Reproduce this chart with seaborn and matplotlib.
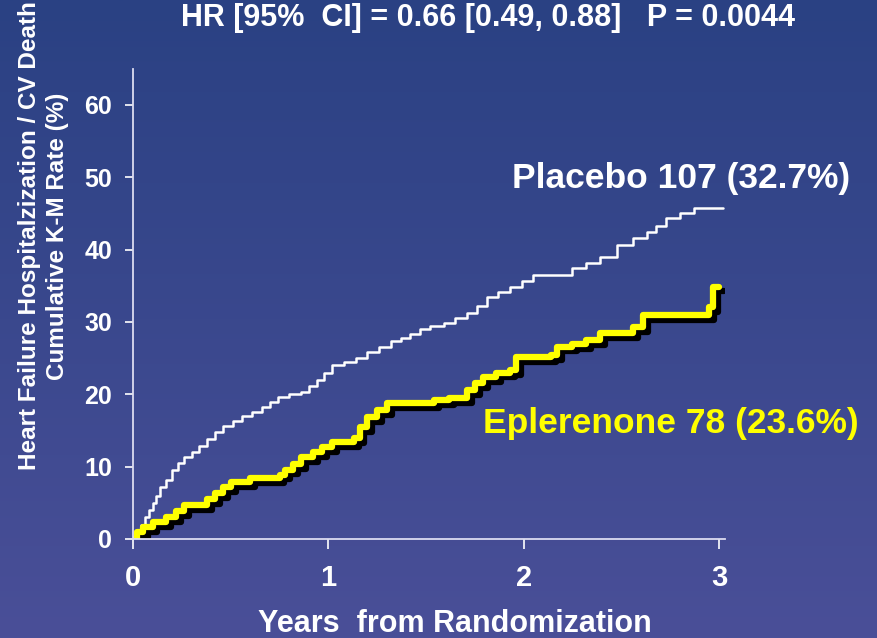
import numpy as np
import pandas as pd
import seaborn as sns
import matplotlib.pyplot as plt
import matplotlib.patheffects as pe
from matplotlib.colors import LinearSegmentedColormap

# Kaplan-Meier step points (years, cumulative %)
placebo_years = [0.00, 0.02, 0.04, 0.06, 0.08, 0.10, 0.12, 0.14, 0.17, 0.20,
                 0.23, 0.26, 0.30, 0.34, 0.38, 0.42, 0.46, 0.51, 0.56, 0.61,
                 0.66, 0.70, 0.74, 0.80, 0.86, 0.90, 0.94, 0.98, 1.02, 1.08,
                 1.14, 1.20, 1.26, 1.32, 1.37, 1.42, 1.47, 1.52, 1.59, 1.65,
                 1.71, 1.76, 1.81, 1.87, 1.93, 1.99, 2.05, 2.25, 2.32, 2.39,
                 2.48, 2.56, 2.63, 2.68, 2.73, 2.80, 2.87, 3.02]
placebo_rate = [0.0, 1.0, 2.0, 3.0, 4.0, 5.0, 6.0, 7.2, 8.2, 9.5,
                10.5, 11.3, 12.0, 12.8, 13.8, 14.8, 15.6, 16.3, 17.0, 17.6,
                18.3, 19.0, 19.6, 20.0, 20.3, 21.2, 22.0, 23.0, 24.0, 24.5,
                25.0, 25.8, 26.5, 27.4, 27.8, 28.3, 29.0, 29.5, 29.9, 30.6,
                31.3, 32.2, 33.5, 34.2, 34.9, 35.6, 36.5, 37.4, 38.2, 39.0,
                40.7, 41.6, 42.5, 43.2, 44.4, 45.0, 45.8, 45.8]

eplerenone_years = [0.00, 0.02, 0.05, 0.10, 0.17, 0.22, 0.26, 0.34, 0.38, 0.42,
                    0.46, 0.50, 0.60, 0.75, 0.78, 0.82, 0.86, 0.92, 0.97, 1.02,
                    1.13, 1.16, 1.20, 1.25, 1.30, 1.54, 1.62, 1.71, 1.75, 1.79,
                    1.86, 1.93, 1.96, 2.14, 2.17, 2.25, 2.32, 2.39, 2.56, 2.61,
                    2.94, 2.95, 2.97, 3.00]
eplerenone_rate = [0.0, 1.0, 1.7, 2.3, 3.0, 3.8, 4.7, 4.7, 5.5, 6.3,
                   7.2, 7.9, 8.4, 8.9, 9.6, 10.4, 11.3, 12.0, 12.7, 13.4,
                   14.0, 15.5, 16.9, 17.8, 18.8, 19.2, 19.5, 20.6, 21.5, 22.4,
                   23.0, 23.4, 25.2, 25.4, 26.6, 27.0, 27.5, 28.5, 29.3, 31.0,
                   31.0, 32.1, 34.9, 34.9]

x_ticks = [0, 1, 2, 3]
y_ticks = [0, 10, 20, 30, 40, 50, 60]

placebo = pd.DataFrame({"Years": placebo_years, "Rate": placebo_rate})
eplerenone = pd.DataFrame({"Years": eplerenone_years, "Rate": eplerenone_rate})

sns.set_style("ticks", {"axes.facecolor": "none", "axes.edgecolor": "white",
                        "xtick.color": "white", "ytick.color": "white"})
plt.rcParams["font.family"] = ["Liberation Sans", "DejaVu Sans"]
plt.rcParams["font.weight"] = "bold"

fig = plt.figure(figsize=(8.77, 6.38), dpi=100)

# slide background gradient
bg = fig.add_axes([0, 0, 1, 1], zorder=-10)
cmap = LinearSegmentedColormap.from_list("slide", ["#2a4183", "#4a4f98"])
bg.imshow(np.linspace(0, 1, 256).reshape(-1, 1), aspect="auto", cmap=cmap,
          extent=[0, 1, 0, 1], origin="upper")
bg.axis("off")

ax = fig.add_axes([0.1517, 0.1552, 0.6748, 0.737])
ax.set_facecolor("none")

sns.lineplot(data=placebo, x="Years", y="Rate", drawstyle="steps-post",
             color="white", lw=1.8, estimator=None, sort=False, ax=ax)
sns.lineplot(data=eplerenone, x="Years", y="Rate", drawstyle="steps-post",
             color="#ffff00", lw=4.5, estimator=None, sort=False, ax=ax,
             path_effects=[pe.SimpleLineShadow(offset=(3.5, -3.5), shadow_color="black", alpha=1.0),
                           pe.Normal()])

ax.set_xlim(0, 3.03)
ax.set_ylim(0, 65)
ax.set_xticks(x_ticks)
ax.set_yticks(y_ticks)
ax.tick_params(axis="x", labelsize=21, length=7, width=1.2, pad=11, labelcolor="white")
ax.tick_params(axis="y", labelsize=18, length=6, width=1.2, pad=9, labelcolor="white")
for lab in ax.get_xticklabels() + ax.get_yticklabels():
    lab.set_fontweight("bold")
for side in ["top", "right"]:
    ax.spines[side].set_visible(False)
for side in ["left", "bottom"]:
    ax.spines[side].set_color("#dcdcf0")
    ax.spines[side].set_linewidth(1.3)
ax.set_xlabel("")
ax.set_ylabel("")

ax.text(1.94, 49.8, "Placebo 107 (32.7%)", color="white", fontsize=25.5,
        fontweight="bold", ha="left", va="center")
ax.text(1.79, 15.9, "Eplerenone 78 (23.6%)", color="#ffff00", fontsize=25.5,
        fontweight="bold", ha="left", va="center")

fig.text(0.556, 0.996, "HR [95%  CI] = 0.66 [0.49, 0.88]   P = 0.0044",
         color="white", fontsize=22, fontweight="bold", ha="center", va="top")
fig.text(0.519, 0.022, "Years  from Randomization", color="white", fontsize=22,
         fontweight="bold", ha="center", va="center")
fig.text(0.034, 0.630, "Heart Failure Hospitalzization / CV Death", color="white",
         fontsize=17.5, fontweight="bold", rotation=90, ha="center", va="center")
fig.text(0.065, 0.630, "Cumulative K-M Rate (%)", color="white",
         fontsize=17.5, fontweight="bold", rotation=90, ha="center", va="center")

fig.savefig("out.png", dpi=100)
